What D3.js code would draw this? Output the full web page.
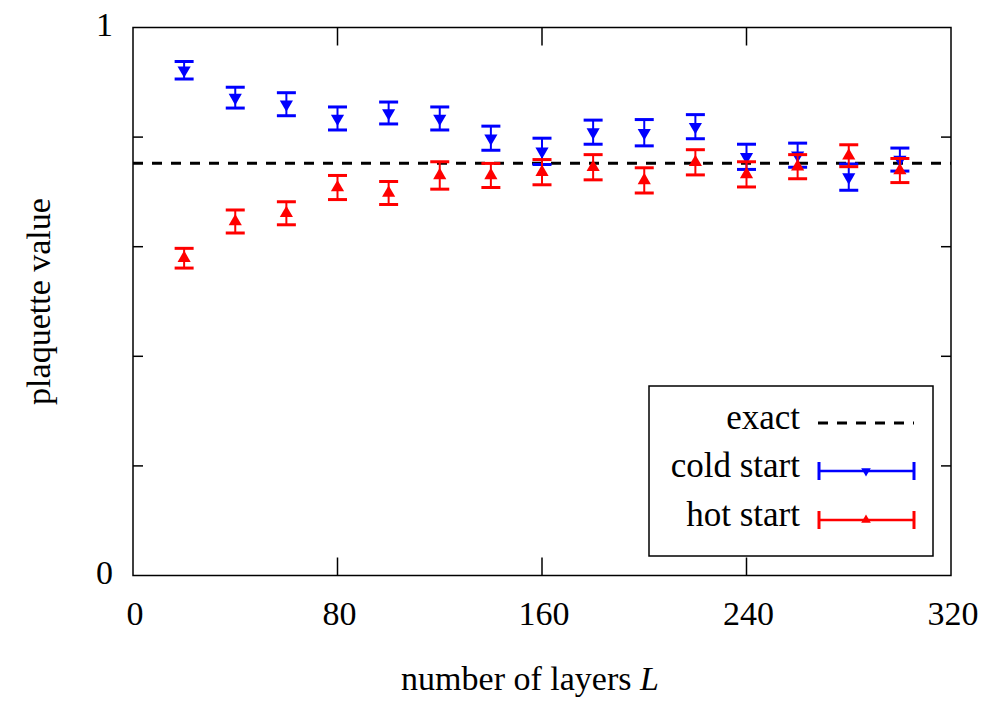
<!DOCTYPE html>
<html><head><meta charset="utf-8">
<script src="https://cdn.jsdelivr.net/npm/d3@7"></script>
<style>body{margin:0;background:#fff}svg{display:block}text{font-family:"Liberation Serif","Times New Roman",serif}</style>
</head><body><svg id="c" width="1004" height="713"></svg>
<script>
const layers = [20,40,60,80,100,120,140,160,180,200,220,240,260,280,300];
const coldValues = [0.922,0.872,0.860,0.834,0.844,0.834,0.798,0.774,0.809,0.808,0.819,0.764,0.767,0.727,0.759];
const coldErrors = [0.016,0.019,0.021,0.021,0.020,0.021,0.022,0.024,0.022,0.024,0.022,0.023,0.022,0.024,0.021];
const hotValues = [0.579,0.646,0.661,0.708,0.698,0.730,0.730,0.736,0.745,0.721,0.754,0.732,0.746,0.766,0.739];
const hotErrors = [0.018,0.021,0.021,0.022,0.021,0.025,0.022,0.023,0.023,0.023,0.023,0.023,0.022,0.020,0.022];
const exactValue = 0.7525;
const xTicks = [0,80,160,240,320];
const yTicks = [0,0.2,0.4,0.6,0.8,1];
const yTickLabels = {0:"0",1:"1"};

const svg = d3.select("#c");
const L=133, R=951, T=27.5, B=575.5;
const FS = 34;
const x = d3.scaleLinear().domain([0,320]).range([L,R]);
const y = d3.scaleLinear().domain([0,1]).range([B,T]);

// ticks (inward, mirrored)
const tg = svg.append("g").attr("stroke","#000").attr("stroke-width",1.5);
xTicks.slice(1,-1).forEach(v=>{
  tg.append("line").attr("x1",x(v)).attr("x2",x(v)).attr("y1",B).attr("y2",B-18);
  tg.append("line").attr("x1",x(v)).attr("x2",x(v)).attr("y1",T).attr("y2",T+18);
});
yTicks.slice(1,-1).forEach(v=>{
  tg.append("line").attr("y1",y(v)).attr("y2",y(v)).attr("x1",L).attr("x2",L+10);
  tg.append("line").attr("y1",y(v)).attr("y2",y(v)).attr("x1",R).attr("x2",R-10);
});
// tick labels
xTicks.forEach(v=>svg.append("text").attr("x",x(v)+2).attr("y",625).attr("text-anchor","middle").attr("font-size",FS).text(d3.format("d")(v)));
yTicks.forEach(v=>{ if(yTickLabels[v]!==undefined) svg.append("text").attr("x",113).attr("y",y(v)+8).attr("text-anchor","end").attr("font-size",FS).text(yTickLabels[v]);});

// exact line
svg.append("line").attr("x1",L).attr("x2",R).attr("y1",y(exactValue)).attr("y2",y(exactValue))
  .attr("stroke","#000").attr("stroke-width",3).attr("stroke-dasharray","10,9");

function series(vals, errs, color, down){
  const g = svg.append("g");
  layers.forEach((l,i)=>{
    const cx=x(l), y1=y(vals[i]+errs[i]), y0=y(vals[i]-errs[i]);
    g.append("line").attr("x1",cx).attr("x2",cx).attr("y1",y1).attr("y2",y0).attr("stroke",color).attr("stroke-width",2);
    [y1,y0].forEach(yy=>g.append("line").attr("x1",cx-9.5).attr("x2",cx+9.5).attr("y1",yy).attr("y2",yy).attr("stroke",color).attr("stroke-width",3));
    g.append("path").attr("d",d3.symbol(d3.symbolTriangle,75)())
      .attr("transform",`translate(${cx},${y(vals[i])}) rotate(${down?180:0})`).attr("fill",color);
  });
}
series(coldValues, coldErrors, "#0000ff", true);
series(hotValues, hotErrors, "#ff0000", false);

// frame
svg.append("rect").attr("x",L).attr("y",T).attr("width",R-L).attr("height",B-T).attr("fill","none").attr("stroke","#000").attr("stroke-width",1.5);

// legend
const lg = svg.append("g");
lg.append("rect").attr("x",649).attr("y",386).attr("width",284).attr("height",170).attr("fill","#fff").attr("stroke","#000").attr("stroke-width",1.5);
const items=[{t:"exact",y:423,type:"exact"},{t:"cold start",y:471,c:"#0000ff",down:true},{t:"hot start",y:520,c:"#ff0000",down:false}];
items.forEach(it=>{
  lg.append("text").attr("x",800).attr("y",it.y+6).attr("text-anchor","end").attr("font-size",FS+1).text(it.t);
  if(it.type==="exact"){
    lg.append("line").attr("x1",818).attr("x2",914).attr("y1",it.y).attr("y2",it.y).attr("stroke","#000").attr("stroke-width",3).attr("stroke-dasharray","10,9");
  } else {
    lg.append("line").attr("x1",819).attr("x2",914).attr("y1",it.y).attr("y2",it.y).attr("stroke",it.c).attr("stroke-width",2.5);
    [819,914].forEach(xx=>lg.append("line").attr("x1",xx).attr("x2",xx).attr("y1",it.y-9).attr("y2",it.y+9).attr("stroke",it.c).attr("stroke-width",3));
    lg.append("path").attr("d",d3.symbol(d3.symbolTriangle,40)()).attr("transform",`translate(866,${it.y}) rotate(${it.down?180:0})`).attr("fill",it.c);
  }
});

// axis titles
const xt = svg.append("text").attr("x",530).attr("y",690).attr("text-anchor","middle").attr("font-size",FS);
xt.append("tspan").text("number of layers ");
xt.append("tspan").attr("font-style","italic").text("L");
svg.append("text").attr("transform",`translate(50,${(T+B)/2}) rotate(-90)`).attr("text-anchor","middle").attr("font-size",FS).text("plaquette value");
</script></body></html>
